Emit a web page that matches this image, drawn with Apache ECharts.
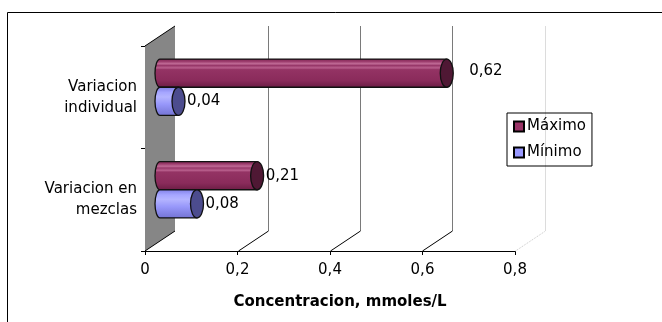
<!DOCTYPE html>
<html>
<head>
<meta charset="utf-8">
<script src="https://cdn.jsdelivr.net/npm/echarts@6/dist/echarts.min.js"></script>
<style>
  html, body { margin: 0; padding: 0; background: #fff; }
  #chart { width: 662px; height: 322px; }
</style>
</head>
<body>
<div id="chart"></div>
<script>
// Concentration ranges, one row per category
const categories = ['Variacion\nindividual', 'Variacion en\nmezclas'];
const maximo = [0.62, 0.21];
const minimo = [0.04, 0.08];
const xTicks = [0, 0.2, 0.4, 0.6, 0.8];
const seriesNames = ['Máximo', 'Mínimo'];

const FONT = 'DejaVu Sans';
const DEPTH = [30, -20];      // back-wall offset of the pseudo-3D frame
const BAR_DEPTH = [15, -10];  // cylinders sit halfway into the frame
const fmt = v => String(v).replace('.', ',');

const chart = echarts.init(document.getElementById('chart'), null, { renderer: 'canvas' });

// Walls, back gridlines and floor diagonals of the 3D frame
function renderFrame(params, api) {
  const c0 = api.coord([0, 0]);
  const c1 = api.coord([0, 1]);
  const band = Math.abs(c1[1] - c0[1]);
  const top = Math.min(c0[1], c1[1]) - band / 2;
  const bottom = Math.max(c0[1], c1[1]) + band / 2;
  const [dx, dy] = DEPTH;
  const children = [];
  const x0 = c0[0];
  children.push({
    type: 'polygon',
    shape: { points: [[x0, top], [x0 + dx, top + dy], [x0 + dx, bottom + dy], [x0, bottom]] },
    style: { fill: '#868686', stroke: null }
  });
  children.push({ type: 'line', shape: { x1: x0, y1: top, x2: x0 + dx, y2: top + dy }, style: { stroke: '#000', lineWidth: 1 } });
  children.push({ type: 'line', shape: { x1: x0, y1: bottom, x2: x0 + dx, y2: bottom + dy }, style: { stroke: '#000', lineWidth: 1 } });
  xTicks.forEach((t, i) => {
    if (t === 0) return;
    const x = Math.round(api.coord([t, 0])[0]) + 0.5;
    const last = i === xTicks.length - 1;
    children.push({
      type: 'line',
      shape: { x1: x + dx, y1: top + dy, x2: x + dx, y2: bottom + dy },
      style: { stroke: last ? '#dcdcdc' : '#7a7a7a', lineWidth: 1 }
    });
    children.push({
      type: 'line',
      shape: { x1: x, y1: bottom, x2: x + dx, y2: bottom + dy },
      style: { stroke: last ? '#c8c8c8' : '#000', lineWidth: 1, lineDash: last ? [1, 1] : null }
    });
  });
  return { type: 'group', children: children, silent: true };
}

const palettes = [
  {
    body: new echarts.graphic.LinearGradient(0, 0, 0, 1, [
      { offset: 0, color: '#7c2550' },
      { offset: 0.1, color: '#9a3a6b' },
      { offset: 0.18, color: '#c06a96' },
      { offset: 0.24, color: '#98386a' },
      { offset: 0.32, color: '#b85e8c' },
      { offset: 0.38, color: '#943364' },
      { offset: 0.75, color: '#8a2b5b' },
      { offset: 1, color: '#6a1c43' }
    ]),
    cap: '#4f1834',
    swatch: '#993366'
  },
  {
    body: new echarts.graphic.LinearGradient(0, 0, 0, 1, [
      { offset: 0, color: '#7d7de6' },
      { offset: 0.2, color: '#a6a6ff' },
      { offset: 0.35, color: '#b4b4ff' },
      { offset: 0.6, color: '#9797fa' },
      { offset: 1, color: '#7272d2' }
    ]),
    cap: '#4c4c8e',
    swatch: '#9999ff'
  }
];

// Extra horizontal room for a value label, keyed "series-category"
const labelNudge = { '0-0': 14 };

function makeCylinderRenderer(seriesIndex) {
  return function (params, api) {
    const v = api.value(0);
    const cat = api.value(1);
    const base = api.coord([0, cat]);
    const end = api.coord([v, cat]);
    const band = api.size([0, 1])[1];
    const h = band * 0.275;
    const cy = base[1] + (seriesIndex === 0 ? -h / 2 : h / 2) + BAR_DEPTH[1];
    const yT = cy - h / 2;
    const yB = cy + h / 2;
    const xs = base[0] + BAR_DEPTH[0];
    const xe = end[0] + BAR_DEPTH[0];
    const rxL = 5;
    const rxR = 6.5;
    const pal = palettes[seriesIndex];
    const k = 0.5523;
    // body outline: rounded left end, straight run to the cap
    const path =
      'M' + xe + ' ' + yT +
      ' L' + xs + ' ' + yT +
      ' C' + (xs - rxL * k) + ' ' + yT + ' ' + (xs - rxL) + ' ' + (cy - h / 2 * k) + ' ' + (xs - rxL) + ' ' + cy +
      ' C' + (xs - rxL) + ' ' + (cy + h / 2 * k) + ' ' + (xs - rxL * k) + ' ' + yB + ' ' + xs + ' ' + yB +
      ' L' + xe + ' ' + yB + ' Z';
    const nudge = labelNudge[seriesIndex + '-' + params.dataIndex] || 0;
    return {
      type: 'group',
      children: [
        {
          type: 'path',
          shape: { pathData: path },
          style: { fill: pal.body, stroke: '#111', lineWidth: 1.3 }
        },
        {
          type: 'ellipse',
          shape: { cx: xe, cy: cy, rx: rxR, ry: h / 2 },
          style: { fill: pal.cap, stroke: '#111', lineWidth: 1.3 }
        },
        {
          type: 'text',
          style: {
            text: fmt(v),
            x: xe + rxR + 2 + nudge,
            y: cy + (nudge ? -2 : 0),
            fill: '#000',
            font: '15px "' + FONT + '"',
            verticalAlign: 'middle',
            align: 'left'
          }
        }
      ]
    };
  };
}

const option = {
  animation: false,
  backgroundColor: '#fff',
  graphic: [
    {
      type: 'rect',
      shape: { x: 7.5, y: 12.5, width: 720, height: 400 },
      style: { fill: null, stroke: '#000', lineWidth: 1 },
      silent: true,
      z: 100
    }
  ],
  legend: {
    data: seriesNames,
    orient: 'vertical',
    left: 507,
    top: 113,
    width: 90,
    padding: [6, 6, 6, 6],
    itemGap: 11,
    borderColor: '#000',
    borderWidth: 1,
    borderRadius: 0,
    itemWidth: 10,
    itemHeight: 10,
    icon: 'rect',
    textStyle: { fontFamily: FONT, fontSize: 15, color: '#000', padding: [0, 0, 0, -2] },
    selectedMode: false
  },
  grid: { left: 145, right: 147, top: 46, bottom: 71, containLabel: false },
  xAxis: {
    type: 'value',
    min: 0,
    max: 0.8,
    interval: 0.2,
    name: 'Concentracion, mmoles/L',
    nameLocation: 'middle',
    nameGap: 44,
    nameTextStyle: { fontFamily: FONT, fontSize: 15, fontWeight: 'bold', color: '#000', padding: [0, 0, 0, 20] },
    axisLine: { show: true, lineStyle: { color: '#000', width: 1 } },
    axisTick: { show: true, length: 4, lineStyle: { color: '#000' } },
    axisLabel: { fontFamily: FONT, fontSize: 15, color: '#000', margin: 12, formatter: v => fmt(v) },
    splitLine: { show: false }
  },
  yAxis: {
    type: 'category',
    data: categories,
    inverse: true,
    axisLine: { show: true, lineStyle: { color: '#000', width: 1 } },
    axisTick: { show: true, length: 4, lineStyle: { color: '#000' } },
    axisLabel: { fontFamily: FONT, fontSize: 15, color: '#000', margin: 8, lineHeight: 21, align: 'right' },
    splitLine: { show: false }
  },
  series: [
    {
      type: 'custom',
      name: 'frame',
      renderItem: renderFrame,
      data: [[0, 0]],
      silent: true,
      z: 1
    },
    {
      type: 'custom',
      name: seriesNames[0],
      renderItem: makeCylinderRenderer(0),
      itemStyle: { color: palettes[0].swatch, borderColor: '#000', borderWidth: 1 },
      data: maximo.map((v, i) => [v, i]),
      encode: { x: 0, y: 1 },
      z: 3
    },
    {
      type: 'custom',
      name: seriesNames[1],
      renderItem: makeCylinderRenderer(1),
      itemStyle: { color: palettes[1].swatch, borderColor: '#000', borderWidth: 1 },
      data: minimo.map((v, i) => [v, i]),
      encode: { x: 0, y: 1 },
      z: 3
    }
  ]
};

chart.setOption(option);
</script>
</body>
</html>
